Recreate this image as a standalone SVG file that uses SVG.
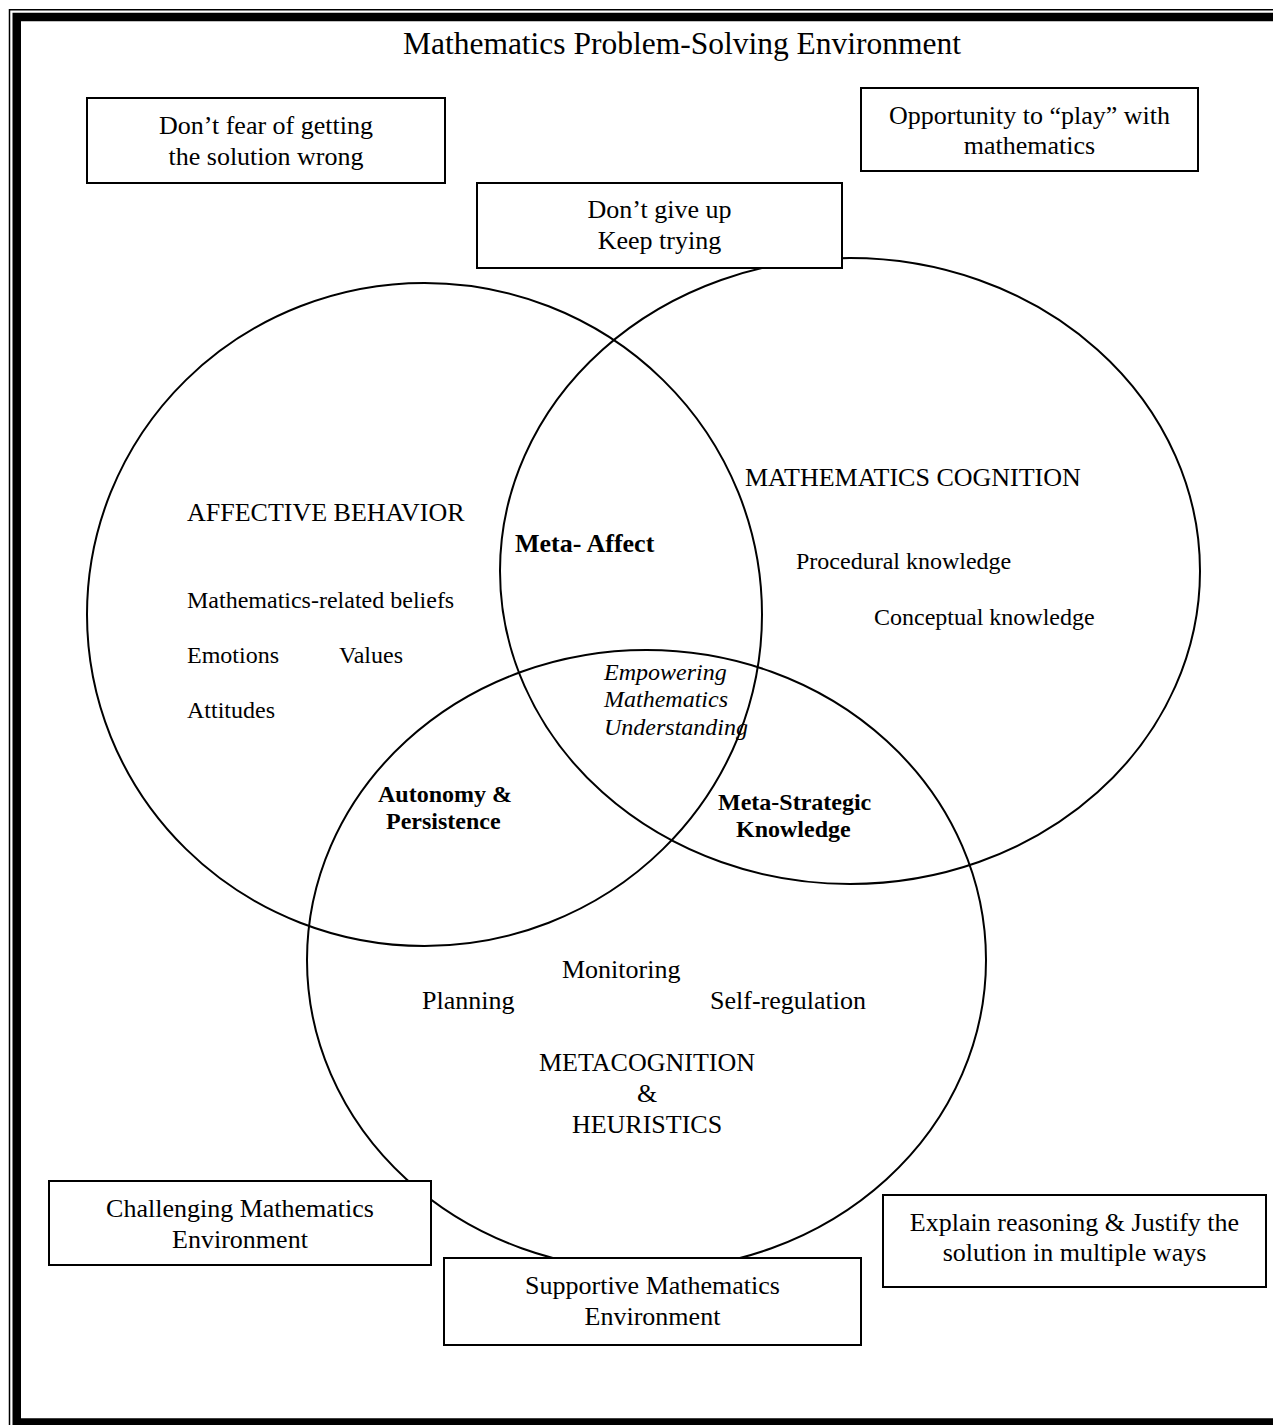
<svg xmlns="http://www.w3.org/2000/svg" width="1273" height="1425" viewBox="0 0 1273 1425">
<style>
.t{font-family:"Liberation Serif","Times New Roman",serif;fill:#000}
.c{text-anchor:middle}
.s24{font-size:24px}
.s26{font-size:26px}
.b{font-weight:bold}
.i{font-style:italic}
.box{fill:#fff;stroke:#000;stroke-width:2}
.circ{fill:none;stroke:#000;stroke-width:2}
</style>
<rect width="1273" height="1425" fill="#fff"/>
<g id="frame">
<rect x="9.5" y="9.75" width="1300" height="1430" fill="none" stroke="#000" stroke-width="1.5"/>
<rect x="16.75" y="17" width="1290" height="1405.5" fill="none" stroke="#000" stroke-width="8.5"/>
</g>
<text id="title" class="t c" x="682" y="54" font-size="31.5">Mathematics Problem-Solving Environment</text>
<g id="connectors">
<ellipse id="circle-affective" class="circ" cx="424.5" cy="614.5" rx="337.5" ry="331.5"/>
<ellipse id="circle-cognition" class="circ" cx="850" cy="571" rx="350" ry="313"/>
<ellipse id="circle-metacognition" class="circ" cx="646.5" cy="960" rx="339.5" ry="310"/>
</g>
<g id="node-fear">
<rect class="box" x="87" y="98" width="358" height="85"/>
<text class="t c s26" x="266" y="134">Don’t fear of getting</text>
<text class="t c s26" x="266" y="165">the solution wrong</text>
</g>
<g id="node-play">
<rect class="box" x="861" y="88" width="337" height="83"/>
<text class="t c s26" x="1029.5" y="124">Opportunity to “play” with</text>
<text class="t c s26" x="1029.5" y="154">mathematics</text>
</g>
<g id="node-giveup">
<rect class="box" x="477" y="183" width="365" height="85"/>
<text class="t c s26" x="659.5" y="218">Don’t give up</text>
<text class="t c s26" x="659.5" y="249">Keep trying</text>
</g>
<g id="node-affective">
<text class="t s26" x="187" y="521">AFFECTIVE BEHAVIOR</text>
<text class="t s24" x="187" y="608">Mathematics-related beliefs</text>
<text class="t s24" x="187" y="663">Emotions</text>
<text class="t s24" x="339" y="663">Values</text>
<text class="t s24" x="187" y="718">Attitudes</text>
</g>
<g id="node-meta-affect">
<text class="t s26 b" x="515" y="552">Meta- Affect</text>
</g>
<g id="node-cognition">
<text class="t s26" x="745" y="486">MATHEMATICS COGNITION</text>
<text class="t s24" x="796" y="569">Procedural knowledge</text>
<text class="t s24" x="874" y="625">Conceptual knowledge</text>
</g>
<g id="node-empowering">
<text class="t s24 i" x="604" y="680">Empowering</text>
<text class="t s24 i" x="604" y="707">Mathematics</text>
<text class="t s24 i" x="604" y="735">Understanding</text>
</g>
<g id="node-autonomy">
<text class="t s24 b" x="378" y="802">Autonomy &amp;</text>
<text class="t s24 b" x="386" y="829">Persistence</text>
</g>
<g id="node-metastrategic">
<text class="t s24 b" x="718" y="810">Meta-Strategic</text>
<text class="t s24 b" x="736" y="837">Knowledge</text>
</g>
<g id="node-metacognition">
<text class="t s26" x="562" y="978">Monitoring</text>
<text class="t s26" x="422" y="1009">Planning</text>
<text class="t s26" x="710" y="1009">Self-regulation</text>
<text class="t c s26" x="647" y="1071">METACOGNITION</text>
<text class="t c s26" x="647" y="1102">&amp;</text>
<text class="t c s26" x="647" y="1133">HEURISTICS</text>
</g>
<g id="node-challenging">
<rect class="box" x="49" y="1181" width="382" height="84"/>
<text class="t c s26" x="240" y="1217">Challenging Mathematics</text>
<text class="t c s26" x="240" y="1248">Environment</text>
</g>
<g id="node-supportive">
<rect class="box" x="444" y="1258" width="417" height="87"/>
<text class="t c s26" x="652.5" y="1294">Supportive Mathematics</text>
<text class="t c s26" x="652.5" y="1325">Environment</text>
</g>
<g id="node-explain">
<rect class="box" x="883" y="1195" width="383" height="92"/>
<text class="t c s26" x="1074.5" y="1231">Explain reasoning &amp; Justify the</text>
<text class="t c s26" x="1074.5" y="1261">solution in multiple ways</text>
</g>
</svg>
